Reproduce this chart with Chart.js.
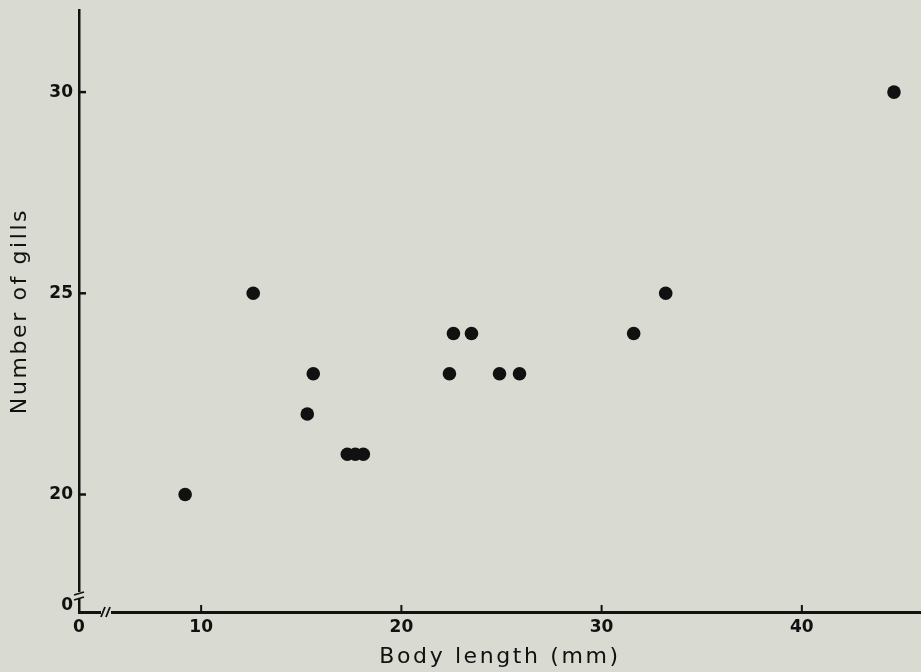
<!DOCTYPE html>
<html>
<head>
<meta charset="utf-8">
<script src="https://cdn.jsdelivr.net/npm/chart.js@4/dist/chart.umd.min.js"></script>
<style>
  html, body { margin: 0; padding: 0; background: #d9dad1; }
  #c { display: block; }
</style>
</head>
<body>
<canvas id="c" width="921" height="672"></canvas>
<script>
// body length (mm) vs number of gills
const bodyLength = [9.2, 12.6, 15.3, 15.6, 17.3, 17.7, 18.1, 22.4, 22.6, 23.5, 24.9, 25.9, 31.6, 33.2, 44.6];
const gills      = [20,  25,   22,   23,   21,   21,   21,   23,   24,   24,   23,   23,   24,   25,   30];

const xTicks = [10, 20, 30, 40];
const yTicks = [20, 25, 30];
// both axes are broken: the first shown position stands for 0
const xStart = 3.9, xEnd = 45.95;
const yStart = 17.08, yEnd = 32.04;
const yZeroLabelAt = 17.25;

const ink = '#111111';
const bg = '#d9dad1';

// spaced-out lettering for the axis titles only
function spaceTitle(scale) {
  if (scale._spaced) return;
  scale._spaced = true;
  const orig = scale.drawTitle;
  scale.drawTitle = function () {
    this.ctx.save();
    this.ctx.letterSpacing = '2.6px';
    orig.call(this);
    this.ctx.restore();
  };
}

const axisDecor = {
  id: 'axisDecor',
  beforeDraw(chart) {
    spaceTitle(chart.scales.x);
    spaceTitle(chart.scales.y);
  },
  afterDraw(chart) {
    const ctx = chart.ctx;
    const xs = chart.scales.x, ys = chart.scales.y;
    const a = chart.chartArea;
    ctx.save();
    ctx.strokeStyle = ink;
    ctx.lineCap = 'butt';
    // inward ticks
    ctx.lineWidth = 2.5;
    yTicks.forEach(v => {
      const py = ys.getPixelForValue(v);
      ctx.beginPath(); ctx.moveTo(a.left, py); ctx.lineTo(a.left + 7, py); ctx.stroke();
    });
    ctx.lineWidth = 2;
    xTicks.forEach(v => {
      const px = xs.getPixelForValue(v);
      ctx.beginPath(); ctx.moveTo(px, a.bottom); ctx.lineTo(px, a.bottom - 7); ctx.stroke();
    });
    // x-axis break
    const bx = a.left + 24;
    ctx.fillStyle = bg;
    ctx.fillRect(bx - 2, a.bottom - 3, 10, 6);
    ctx.lineWidth = 1.8;
    [0, 5].forEach(d => {
      ctx.beginPath(); ctx.moveTo(bx + d - 2, a.bottom + 5); ctx.lineTo(bx + d + 2, a.bottom - 5); ctx.stroke();
    });
    // y-axis break
    const by = a.bottom - 18;
    ctx.fillStyle = bg;
    ctx.fillRect(a.left - 3, by - 2, 6, 6);
    [0, 5].forEach(d => {
      ctx.beginPath(); ctx.moveTo(a.left - 5, by + d + 1); ctx.lineTo(a.left + 5, by + d - 2); ctx.stroke();
    });
    ctx.restore();
  }
};

const tickFont = { family: 'DejaVu Sans', size: 17, weight: 'bold' };
const titleFont = { family: 'DejaVu Sans', size: 22 };

new Chart(document.getElementById('c'), {
  type: 'scatter',
  data: {
    datasets: [{
      data: bodyLength.map((x, i) => ({ x: x, y: gills[i] })),
      pointRadius: 6.8,
      pointBackgroundColor: ink,
      pointBorderWidth: 0
    }]
  },
  options: {
    responsive: false,
    animation: false,
    layout: { autoPadding: false, padding: { top: 10, right: 0, bottom: 0, left: 0 } },
    plugins: { legend: { display: false }, tooltip: { enabled: false } },
    scales: {
      x: {
        type: 'linear',
        min: xStart,
        max: xEnd,
        afterBuildTicks: s => { s.ticks = [xStart].concat(xTicks).map(v => ({ value: v })); },
        afterFit: s => { s.height = 60; s.paddingLeft = 0; s.paddingRight = 0; },
        grid: { drawOnChartArea: false, drawTicks: false },
        border: { display: true, color: ink, width: 3 },
        ticks: {
          padding: 5,
          color: ink,
          font: tickFont,
          callback: v => (Math.abs(v - xStart) < 0.01 ? '0' : v)
        },
        title: {
          display: true,
          text: 'Body length (mm)',
          color: ink,
          font: titleFont,
          padding: { top: 0, bottom: 2 }
        }
      },
      y: {
        type: 'linear',
        min: yStart,
        max: yEnd,
        afterBuildTicks: s => { s.ticks = [yZeroLabelAt].concat(yTicks).map(v => ({ value: v })); },
        afterFit: s => { s.width = 79; s.paddingTop = 0; s.paddingBottom = 0; },
        grid: { drawOnChartArea: false, drawTicks: false },
        border: { display: true, color: ink, width: 2.5 },
        ticks: {
          padding: 6,
          color: ink,
          font: tickFont,
          callback: v => (Math.abs(v - yZeroLabelAt) < 0.01 ? '0' : v)
        },
        title: {
          display: true,
          text: 'Number of gills',
          color: ink,
          font: titleFont,
          padding: { top: 7, bottom: 0 }
        }
      }
    }
  },
  plugins: [axisDecor]
});
</script>
</body>
</html>
